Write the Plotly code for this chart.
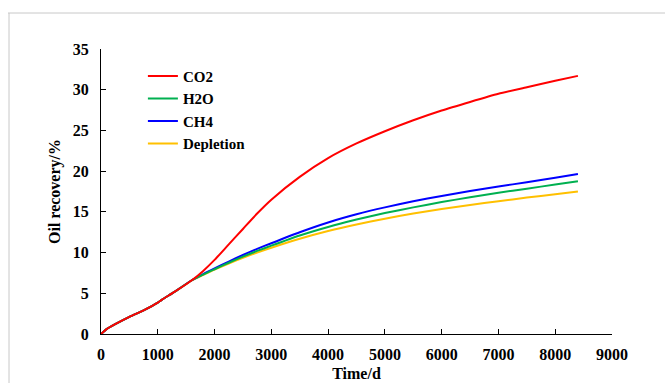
import plotly.graph_objects as go

time_d = [0, 100, 250, 500, 750, 1000, 1070, 1300, 1600, 1800, 2000, 2250, 2500, 2750,
          3000, 3500, 4000, 4500, 5000, 5500, 6000, 6500, 7000, 7500, 8000, 8400]
early = [0, 0.6, 1.2, 2.1, 2.9, 3.85, 4.2, 5.2, 6.6]
co2 = early + [7.75, 9.1, 11.0, 12.9, 14.8, 16.5, 19.3, 21.6, 23.4, 24.9, 26.25, 27.45, 28.5, 29.5, 30.3, 31.1, 31.7]
h2o = early + [7.3, 7.95, 8.75, 9.5, 10.2, 10.85, 12.1, 13.15, 14.05, 14.85, 15.55, 16.2, 16.8, 17.35, 17.85, 18.35, 18.75]
ch4 = early + [7.35, 8.05, 8.9, 9.7, 10.45, 11.15, 12.5, 13.7, 14.7, 15.55, 16.3, 16.95, 17.55, 18.1, 18.65, 19.2, 19.65]
depletion = early + [7.25, 7.9, 8.65, 9.35, 10.0, 10.6, 11.7, 12.65, 13.45, 14.15, 14.8, 15.35, 15.85, 16.3, 16.75, 17.15, 17.5]

series_names = ["CO2", "H2O", "CH4", "Depletion"]
series_vals = [co2, h2o, ch4, depletion]
colors = ["#FF0000", "#00B050", "#0000FF", "#FFC000"]

x_ticks = list(range(0, 9001, 1000))
y_ticks = list(range(0, 36, 5))

font_family = "Liberation Serif"

fig = go.Figure()
for name, vals, c in reversed(list(zip(series_names, series_vals, colors))):
    fig.add_trace(go.Scatter(x=time_d, y=vals, mode="lines", name="<b>" + name + "</b>",
                             line=dict(color=c, width=2, shape="spline", smoothing=0.6)))

fig.update_layout(
    width=665, height=383,
    margin=dict(l=101, r=53, t=49, b=49, autoexpand=False),
    plot_bgcolor="white", paper_bgcolor="white",
    font=dict(family=font_family, size=16, color="black"),
    showlegend=True,
    legend=dict(x=0.082, y=0.962, xanchor="left", yanchor="top",
                traceorder="reversed", font=dict(family=font_family, size=15, color="black"),
                bgcolor="rgba(0,0,0,0)", itemwidth=30, tracegroupgap=0),
    xaxis=dict(range=[0, 9000], tickvals=x_ticks, ticktext=["<b>%d</b>" % v for v in x_ticks],
               showgrid=False, zeroline=False, showline=True, linecolor="black", linewidth=1,
               ticks="inside", ticklen=5, tickcolor="black", automargin=False,
               tickfont=dict(family=font_family, size=16),
               ticklabelstandoff=6,
               title=dict(text="<b>Time/d</b>", font=dict(family=font_family, size=16), standoff=5)),
    yaxis=dict(range=[0, 35], tickvals=y_ticks, ticktext=["<b>%d</b>" % v for v in y_ticks],
               showgrid=False, zeroline=False, showline=True, linecolor="black", linewidth=1,
               ticks="inside", ticklen=5, tickcolor="black", automargin=False,
               tickfont=dict(family=font_family, size=16),
               ticklabelstandoff=8,
               title=dict(text="<b>Oil recovery/%</b>", font=dict(family=font_family, size=16), standoff=8)),
    shapes=[
        dict(type="line", xref="paper", yref="paper", x0=(8 - 101) / 511, x1=(665 - 101) / 511,
             y0=(334 - 13) / 285, y1=(334 - 13) / 285, line=dict(color="#C8C8C8", width=1)),
        dict(type="line", xref="paper", yref="paper", x0=(9 - 101) / 511, x1=(9 - 101) / 511,
             y0=(334 - 13) / 285, y1=(334 - 383) / 285, line=dict(color="#C8C8C8", width=1)),
    ],
)

fig.write_html("out.html")
